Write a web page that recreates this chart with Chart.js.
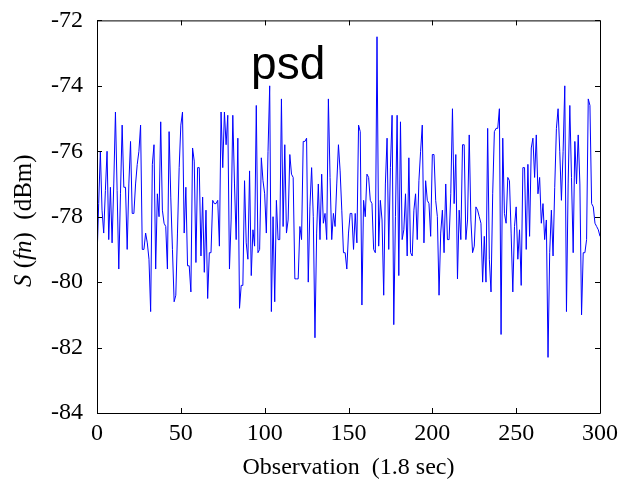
<!DOCTYPE html>
<html>
<head>
<meta charset="utf-8">
<script src="https://cdn.jsdelivr.net/npm/chart.js@4"></script>
<style>
  html, body { margin: 0; padding: 0; background: #fff; }
  #wrap { width: 621px; height: 483px; }
</style>
</head>
<body>
<div id="wrap"><canvas id="psdChart" width="621" height="483"></canvas></div>
<script>
// psd values (dBm), one per observation 0..300
const psdValues = [
  -79.3, -77.6, -76.0, -77.8, -78.5, -77.2, -76.0, -78.7, -77.1, -78.8,
  -77.0, -74.8, -77.2, -79.6, -77.3, -75.2, -77.1, -77.1, -79.0, -77.0,
  -75.7, -77.9, -77.9, -77.0, -76.4, -76.0, -75.2, -79.0, -79.0, -78.5,
  -78.8, -79.3, -80.9, -76.4, -75.8, -79.6, -77.3, -78.0, -75.1, -77.8,
  -78.2, -78.3, -79.6, -75.4, -77.4, -79.0, -80.6, -80.4, -78.5, -76.5,
  -75.2, -74.8, -78.5, -77.1, -79.5, -79.5, -80.3, -75.9, -76.3, -79.4,
  -76.5, -76.5, -79.2, -77.4, -79.7, -77.8, -80.5, -79.1, -79.1, -77.5,
  -77.6, -77.6, -77.5, -78.9, -74.8, -76.5, -74.8, -75.8, -74.9, -79.6,
  -78.1, -74.9, -77.0, -78.7, -75.6, -80.8, -80.1, -80.1, -76.9, -78.8,
  -79.3, -76.6, -79.8, -78.4, -78.9, -74.6, -79.1, -79.0, -76.2, -76.9,
  -77.3, -78.5, -76.0, -74.0, -80.9, -78.0, -80.6, -77.5, -78.7, -78.7,
  -74.4, -78.3, -75.8, -78.5, -78.1, -76.1, -76.7, -76.8, -79.9, -79.9,
  -79.9, -78.3, -78.7, -75.7, -75.7, -75.6, -80.0, -77.7, -76.5, -78.0,
  -81.7, -78.5, -77.0, -78.7, -76.7, -78.2, -77.9, -78.7, -74.4, -76.8,
  -78.7, -77.9, -78.3, -77.0, -75.8, -76.6, -77.8, -79.1, -79.1, -79.6,
  -78.5, -77.9, -77.9, -79.0, -77.9, -78.8, -75.2, -75.4, -80.7, -77.5,
  -78.0, -76.7, -76.8, -77.5, -77.6, -79.0, -79.1, -72.5, -78.9, -77.5,
  -78.1, -80.4, -77.0, -75.6, -79.0, -76.5, -74.9, -81.3, -78.0, -74.9,
  -79.8, -75.1, -78.7, -78.4, -77.3, -79.2, -76.2, -79.1, -79.2, -77.8,
  -77.3, -78.7, -76.9, -76.0, -75.2, -78.8, -76.9, -77.5, -77.6, -78.6,
  -76.1, -76.1, -77.5, -78.0, -80.4, -78.5, -77.8, -79.1, -77.0, -78.7,
  -78.7, -77.3, -74.7, -77.6, -76.1, -79.9, -77.8, -78.7, -75.8, -75.8,
  -78.7, -78.1, -75.5, -78.1, -79.1, -78.9, -77.7, -77.8, -78.0, -78.2,
  -80.0, -78.6, -80.0, -75.3, -79.3, -80.3, -77.3, -75.4, -75.3, -75.3,
  -74.7, -81.6, -75.6, -77.9, -78.2, -76.8, -76.9, -78.5, -80.3, -78.3,
  -77.7, -79.3, -78.4, -80.1, -76.5, -76.5, -79.0, -76.4, -78.6, -75.9,
  -75.6, -76.8, -75.5, -77.3, -76.8, -78.2, -77.6, -78.7, -78.1, -82.3,
  -79.1, -77.8, -79.2, -77.1, -75.3, -74.7, -76.0, -77.5, -76.0, -74.0,
  -80.9, -77.0, -74.6, -76.8, -79.1, -75.7, -77.0, -75.5, -77.0, -81.0,
  -79.1, -79.1, -78.7, -74.4, -74.6, -77.6, -77.7, -78.2, -78.3, -78.4,
  -78.6
];

const xTicks = [0, 50, 100, 150, 200, 250, 300];
const yTicks = [-84, -82, -80, -78, -76, -74, -72];
const xLabel = "Observation  (1.8 sec)";
const yLabelParts = [
  { text: "S", italic: true },
  { text: " (", italic: false },
  { text: "fn", italic: true },
  { text: ")  (dBm)", italic: false }
];
const annotationText = "psd";

const serif = "'Liberation Serif', 'Times New Roman', serif";

// MATLAB-style box, inward ticks and labels
const matlabAxes = {
  id: "matlabAxes",
  afterDraw(chart) {
    const { ctx, chartArea: a, scales } = chart;
    ctx.save();
    ctx.strokeStyle = "#000";
    ctx.lineWidth = 1;
    ctx.beginPath();
    ctx.rect(a.left + 0.5, a.top + 0.5, a.right - a.left, a.bottom - a.top);
    ctx.stroke();

    const tl = 5;
    ctx.beginPath();
    xTicks.forEach(v => {
      const px = Math.round(scales.x.getPixelForValue(v)) + 0.5;
      ctx.moveTo(px, a.bottom); ctx.lineTo(px, a.bottom - tl);
      ctx.moveTo(px, a.top); ctx.lineTo(px, a.top + tl);
    });
    yTicks.forEach(v => {
      const py = Math.round(scales.y.getPixelForValue(v)) + 0.5;
      ctx.moveTo(a.left, py); ctx.lineTo(a.left + tl, py);
      ctx.moveTo(a.right, py); ctx.lineTo(a.right - tl, py);
    });
    ctx.stroke();

    // x axis title
    ctx.fillStyle = "#000";
    ctx.font = "24px " + serif;
    ctx.textAlign = "center";
    ctx.textBaseline = "alphabetic";
    ctx.fillText(xLabel, (a.left + a.right) / 2, 474);

    // y axis title with italic parts
    ctx.translate(31, (a.top + a.bottom) / 2 + 4);
    ctx.rotate(-Math.PI / 2);
    let total = 0;
    yLabelParts.forEach(p => {
      ctx.font = (p.italic ? "italic " : "") + "25px " + serif;
      total += ctx.measureText(p.text).width;
    });
    let x = -total / 2;
    ctx.textAlign = "left";
    yLabelParts.forEach(p => {
      ctx.font = (p.italic ? "italic " : "") + "25px " + serif;
      ctx.fillText(p.text, x, 0);
      x += ctx.measureText(p.text).width;
    });
    ctx.restore();

    // "psd" annotation inside the plot
    ctx.save();
    ctx.fillStyle = "#000";
    ctx.font = "46px 'Liberation Sans', Arial, sans-serif";
    ctx.textAlign = "center";
    ctx.textBaseline = "alphabetic";
    ctx.fillText(annotationText, scales.x.getPixelForValue(114), scales.y.getPixelForValue(-73.8));
    ctx.restore();
  }
};

const ctx = document.getElementById("psdChart").getContext("2d");
new Chart(ctx, {
  type: "line",
  data: {
    datasets: [{
      data: psdValues.map((v, i) => ({ x: i, y: v })),
      borderColor: "#0000ff",
      borderWidth: 1,
      pointRadius: 0,
      tension: 0,
      fill: false
    }]
  },
  options: {
    responsive: false,
    animation: false,
    layout: { padding: { left: 0, top: 20, right: 21, bottom: 0 } },
    plugins: {
      legend: { display: false },
      tooltip: { enabled: false }
    },
    scales: {
      x: {
        type: "linear",
        min: 0,
        max: 300,
        afterFit: s => { s.height = 70; },
        afterBuildTicks: s => { s.ticks = xTicks.map(v => ({ value: v })); },
        grid: { display: false },
        border: { display: false },
        ticks: {
          color: "#000",
          font: { family: serif, size: 24 },
          padding: -2,
          maxRotation: 0,
          autoSkip: false
        }
      },
      y: {
        min: -84,
        max: -72,
        afterFit: s => { s.width = 97; },
        afterBuildTicks: s => { s.ticks = yTicks.map(v => ({ value: v })); },
        grid: { display: false },
        border: { display: false },
        ticks: {
          color: "#000",
          font: { family: serif, size: 24 },
          padding: 6,
          autoSkip: false
        }
      }
    }
  },
  plugins: [matlabAxes]
});
</script>
</body>
</html>
